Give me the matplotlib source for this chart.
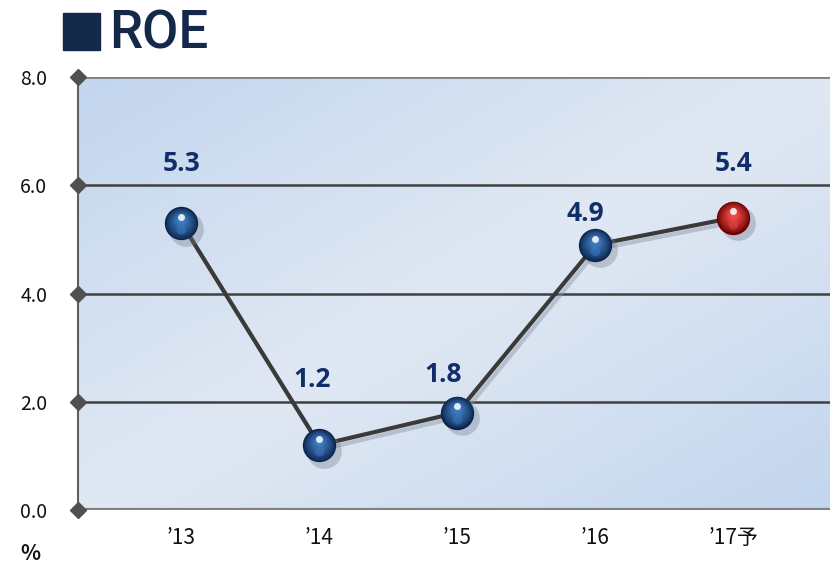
import matplotlib
matplotlib.use("Agg")
import matplotlib.pyplot as plt
import matplotlib.transforms as mtransforms
import numpy as np
from matplotlib.patches import Rectangle
from matplotlib.colors import LinearSegmentedColormap, to_rgb

categories = ["’13", "’14", "’15", "’16", "’17予"]
roe = [5.3, 1.2, 1.8, 4.9, 5.4]
labels = ["5.3", "1.2", "1.8", "4.9", "5.4"]
yticks = [0.0, 2.0, 4.0, 6.0, 8.0]
ytick_labels = ["0.0", "2.0", "4.0", "6.0", "8.0"]

fig = plt.figure(figsize=(8.3, 5.63), dpi=100)
ax = fig.add_axes([78/830, 53/563, 1 - 78/830, (510-77)/563])

xlim = (-0.75, 4.7)
ax.set_xlim(*xlim)
ax.set_ylim(0, 8)

# gradient background
nx, ny = 200, 200
xx, yy = np.meshgrid(np.linspace(0, 1, nx), np.linspace(0, 1, ny))
t = (xx + (1 - yy)) / 2.0
v = np.abs(t - 0.5) * 2
cmap = LinearSegmentedColormap.from_list("bg", ["#e0e8f3", "#c3d6ee"])
ax.imshow(v, extent=[xlim[0], xlim[1], 0, 8], origin="lower", aspect="auto",
          cmap=cmap, zorder=0, interpolation="bilinear")

for y in [2, 4, 6]:
    ax.axhline(y, color="#404040", lw=1.8, zorder=1)
ax.axhline(8, color="#808080", lw=2, zorder=1)
ax.axhline(0, color="#808080", lw=3, zorder=1)

for s in ["top", "right", "bottom"]:
    ax.spines[s].set_visible(False)
ax.spines["left"].set_color("#606060")
ax.spines["left"].set_linewidth(1.5)

x = np.arange(len(categories))
shadow_tr = mtransforms.offset_copy(ax.transData, fig=fig, x=2, y=-3, units="points")
ax.plot(x, roe, color="#8a94a4", lw=3, alpha=0.45, zorder=2, transform=shadow_tr)
ax.plot(x, roe, color="#3a3a3a", lw=3, zorder=3)

# glossy spheres
def mix(a, b, f):
    a, b = np.array(to_rgb(a)), np.array(to_rgb(b))
    return tuple(a + (b - a) * f)

sphere = [("#0a2349", "#3f7cc4")] * 4 + [("#6a0000", "#f04a4a")]
shadow_m = mtransforms.offset_copy(ax.transData, fig=fig, x=3, y=-4, units="points")
ax.plot(x, roe, "o", ms=25, color="#6f7b8c", alpha=0.35, mec="none", zorder=4, transform=shadow_m)
for xi, yi, (dk, lt) in zip(x, roe, sphere):
    n = 14
    for k in range(n):
        f = k / (n - 1)
        ms = 24 * (1 - 0.8 * f)
        tr = mtransforms.offset_copy(ax.transData, fig=fig, x=-0.5 * f, y=2.5 * f, units="points")
        ax.plot(xi, yi, "o", ms=ms, color=mix(dk, lt, f ** 0.8), mec="none", zorder=5, transform=tr)
    trb = mtransforms.offset_copy(ax.transData, fig=fig, x=0, y=-4.5, units="points")
    ax.plot(xi, yi, "o", ms=7, color=lt, alpha=0.45, mec="none", zorder=6, transform=trb)
    trg = mtransforms.offset_copy(ax.transData, fig=fig, x=-0.5, y=4.5, units="points")
    ax.plot(xi, yi, "o", ms=5, color="white", alpha=0.85, mec="none", zorder=7, transform=trg)

label_dx = [0.0, -0.05, -0.1, -0.07, 0.0]
label_y = [6.41, 2.42, 2.5, 5.47, 6.41]
for xi, yi, lab, dx in zip(x, label_y, labels, label_dx):
    ax.text(xi + dx, yi, lab, ha="center", va="center",
            fontsize=19, fontweight="bold", color="#112d6a", family="Open Sans", zorder=8)

ax.plot([xlim[0]] * len(yticks), yticks, "D", ms=8, color="#505050", zorder=9, clip_on=False)

ax.set_yticks(yticks)
ax.set_yticklabels(ytick_labels, fontsize=14, family="Noto Sans CJK JP", color="#111111")
ax.tick_params(axis="y", length=0, pad=22)
ax.set_xticks(x)
ax.set_xticklabels(categories, fontsize=15, family=["Noto Sans CJK JP", "DejaVu Sans"], color="#111111")
ax.tick_params(axis="x", length=0, pad=12)

fig.text(20/830, 1 - 553/563, "%", fontsize=15, fontweight="bold", family="Noto Sans CJK JP",
         ha="left", va="center", color="#111111")

fig.patches.append(Rectangle((63/830, 1 - 50/563), 37/830, 37/563, transform=fig.transFigure,
                             color="#14294a", figure=fig))
fig.text(109/830, 1 - 34/563, "ROE", fontsize=38, fontweight="medium", family="Roboto",
         color="#14294a", ha="left", va="center")

fig.savefig("out.png", dpi=100)
